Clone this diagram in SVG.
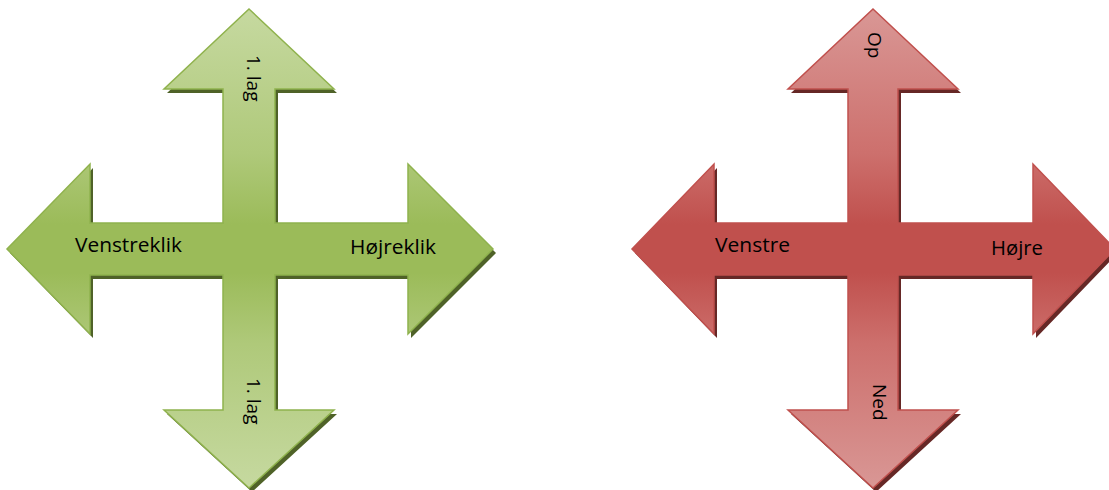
<svg xmlns="http://www.w3.org/2000/svg" width="1109" height="490" viewBox="0 0 1109 490">
<style>
.lbl{font-family:"Open Sans","Liberation Sans",sans-serif;font-size:20px;fill:#000}
.vl{font-family:"Open Sans","Liberation Sans",sans-serif;font-size:19px;fill:#000}
.gs{fill:#4f6228}
.rs{fill:#662826}
.gf{fill:url(#gg);stroke:#8fb24d;stroke-width:1.5;stroke-linejoin:miter}
.rf{fill:url(#rg);stroke:#c0504d;stroke-width:1.5;stroke-linejoin:miter}
</style>
<defs>
<linearGradient id="gg" gradientUnits="userSpaceOnUse" x1="0" y1="9" x2="0" y2="488">
<stop offset="0" stop-color="#c6d9a0"/>
<stop offset="0.3" stop-color="#afc97a"/>
<stop offset="0.45" stop-color="#9bbb59"/>
<stop offset="0.55" stop-color="#9bbb59"/>
<stop offset="0.7" stop-color="#afc97a"/>
<stop offset="1" stop-color="#c6d9a0"/>
</linearGradient>
<linearGradient id="rg" gradientUnits="userSpaceOnUse" x1="0" y1="9" x2="0" y2="488">
<stop offset="0" stop-color="#d99795"/>
<stop offset="0.3" stop-color="#cd706d"/>
<stop offset="0.45" stop-color="#c0504d"/>
<stop offset="0.55" stop-color="#c0504d"/>
<stop offset="0.7" stop-color="#cd706d"/>
<stop offset="1" stop-color="#d99795"/>
</linearGradient>
<path id="gshape" d="M249,9 L334,89 L275,89 L275,223 L408,223 L408,164 L493,249 L408,334 L408,275 L275,275 L275,410 L334,410 L249,488 L164,410 L223,410 L223,275 L90,275 L90,334 L7,249 L90,164 L90,223 L223,223 L223,89 L164,89 Z"/>
<path id="rshape" d="M873,9 L958,89 L898,89 L898,223 L1033,223 L1033,164 L1115,249 L1033,334 L1033,275 L898,275 L898,410 L958,410 L873,488 L788,410 L848,410 L848,275 L714,275 L714,334 L632,249 L714,164 L714,223 L848,223 L848,89 L788,89 Z"/>
</defs>
<g id="connectors"></g>
<g id="green-arrow">
<use href="#gshape" class="gs" transform="translate(3,4)"/>
<use href="#gshape" class="gf"/>
<text class="lbl" x="75" y="252" textLength="107" lengthAdjust="spacingAndGlyphs">Venstreklik</text>
<text class="lbl" x="350" y="254" textLength="86" lengthAdjust="spacingAndGlyphs">Højreklik</text>
<text class="vl" transform="translate(247,55) rotate(90)">1. lag</text>
<text class="vl" transform="translate(247,378) rotate(90)">1. lag</text>
</g>
<g id="red-arrow">
<use href="#rshape" class="rs" transform="translate(3,4)"/>
<use href="#rshape" class="rf"/>
<text class="lbl" x="715" y="252" textLength="75" lengthAdjust="spacingAndGlyphs">Venstre</text>
<text class="lbl" x="991" y="255" textLength="52" lengthAdjust="spacingAndGlyphs">Højre</text>
<text class="vl" transform="translate(868,32) rotate(90)">Op</text>
<text class="vl" transform="translate(873,384) rotate(90)">Ned</text>
</g>
</svg>
